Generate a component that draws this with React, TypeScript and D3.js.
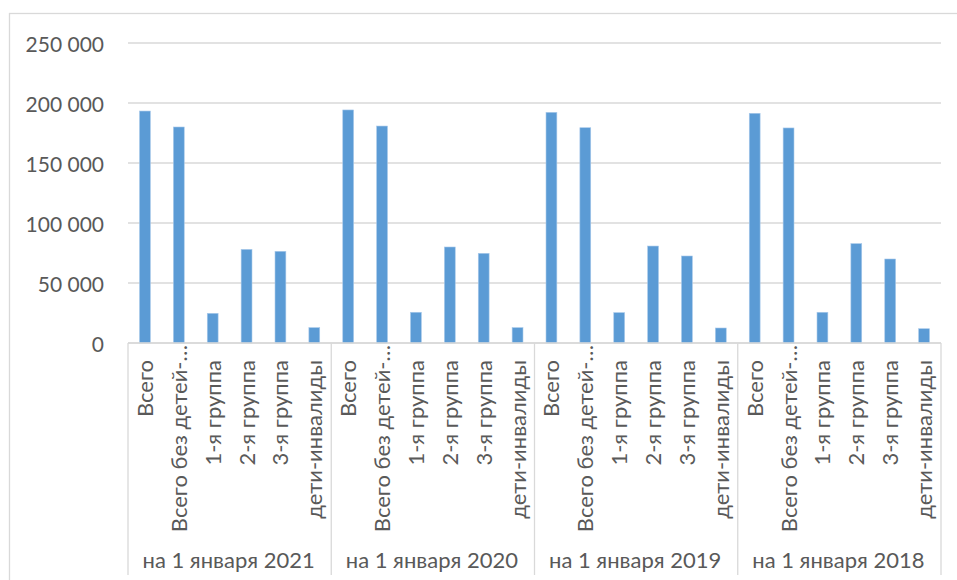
import React from "react";
import * as d3 from "d3";

// Disabled-persons counts by category, four reporting dates
const groups = ["на 1 января 2021", "на 1 января 2020", "на 1 января 2019", "на 1 января 2018"];
const categories = ["Всего", "Всего без детей-инвалидов", "1-я группа", "2-я группа", "3-я группа", "дети-инвалиды"];
const values2021 = [193300, 180000, 24700, 78000, 76400, 12800];
const values2020 = [194200, 180800, 25600, 80000, 74700, 12800];
const values2019 = [192200, 179400, 25300, 80800, 72500, 12500];
const values2018 = [191400, 179200, 25600, 82800, 70000, 11900];
const yTicks = [0, 50000, 100000, 150000, 200000, 250000];

const seriesByGroup = [values2021, values2020, values2019, values2018];

const W = 957;
const H = 580;
const plot = { left: 128, right: 941, top: 43, bottom: 343 };
const FONT = "Lato, 'Open Sans', 'Noto Sans', sans-serif";
const TEXT = "#595959";
const GRID = "#d9d9d9";
const BAR = "#5b9bd5";

const fmt = (v: number) => d3.format(",")(v).replace(/,/g, " ");
const shortLabel = (s: string) => (s.length > 16 ? s.slice(0, 16) + "…" : s);

export default function App() {
  const rows = groups.flatMap((g, gi) =>
    categories.map((c, ci) => ({ key: `${gi}-${ci}`, group: g, cat: c, value: seriesByGroup[gi][ci] }))
  );

  const x = d3
    .scaleBand<string>()
    .domain(rows.map((r) => r.key))
    .range([plot.left, plot.right])
    .paddingInner(0.68)
    .paddingOuter(0.34);

  const y = d3.scaleLinear().domain([0, 250000]).range([plot.bottom, plot.top]);

  const groupEdge = (i: number) => plot.left + ((plot.right - plot.left) / groups.length) * i;

  return (
    <svg
      width={W}
      height={H}
      style={{ position: "absolute", left: 0, top: 0, background: "#fff" }}
      fontFamily={FONT}
    >
      {/* chart frame */}
      <rect x={9.5} y={13.5} width={W + 20} height={H + 20} fill="none" stroke={GRID} strokeWidth={1.3} />

      {/* gridlines and value labels */}
      {yTicks.map((t) => (
        <g key={t}>
          <line x1={plot.left} x2={plot.right} y1={y(t)} y2={y(t)} stroke={GRID} strokeWidth={1.3} />
          <text
            x={104}
            y={y(t)}
            textAnchor="end"
            dominantBaseline="central"
            fontSize={21}
            fill={TEXT}
          >
            {fmt(t)}
          </text>
        </g>
      ))}

      {/* bars */}
      {rows.map((r) => (
        <rect
          key={r.key}
          x={x(r.key)}
          y={y(r.value)}
          width={x.bandwidth()}
          height={y(0) - y(r.value)}
          fill={BAR}
          stroke="#a7c8ea"
          strokeWidth={0.6}
        />
      ))}

      {/* group separators on the category axis */}
      {d3.range(groups.length + 1).map((i) => (
        <line
          key={i}
          x1={groupEdge(i)}
          x2={groupEdge(i)}
          y1={plot.bottom}
          y2={575}
          stroke={GRID}
          strokeWidth={1.3}
        />
      ))}

      {/* category labels, rotated */}
      {rows.map((r) => {
        const cx = (x(r.key) as number) + x.bandwidth() / 2;
        const label = shortLabel(r.cat);
        const truncated = label !== r.cat;
        return (
          <text
            key={"l" + r.key}
            transform={`translate(${cx + 8},${truncated ? 345 : 360}) rotate(-90)`}
            textAnchor="end"
            fontSize={22}
            fill={TEXT}
          >
            {label}
          </text>
        );
      })}

      {/* group labels */}
      {groups.map((g, i) => (
        <text
          key={g}
          x={(groupEdge(i) + groupEdge(i + 1)) / 2 - 1}
          y={568}
          textAnchor="middle"
          fontSize={22}
          fill={TEXT}
        >
          {g}
        </text>
      ))}

      {/* category axis line */}
      <line x1={plot.left} x2={plot.right} y1={plot.bottom} y2={plot.bottom} stroke={GRID} strokeWidth={1.3} />
    </svg>
  );
}
